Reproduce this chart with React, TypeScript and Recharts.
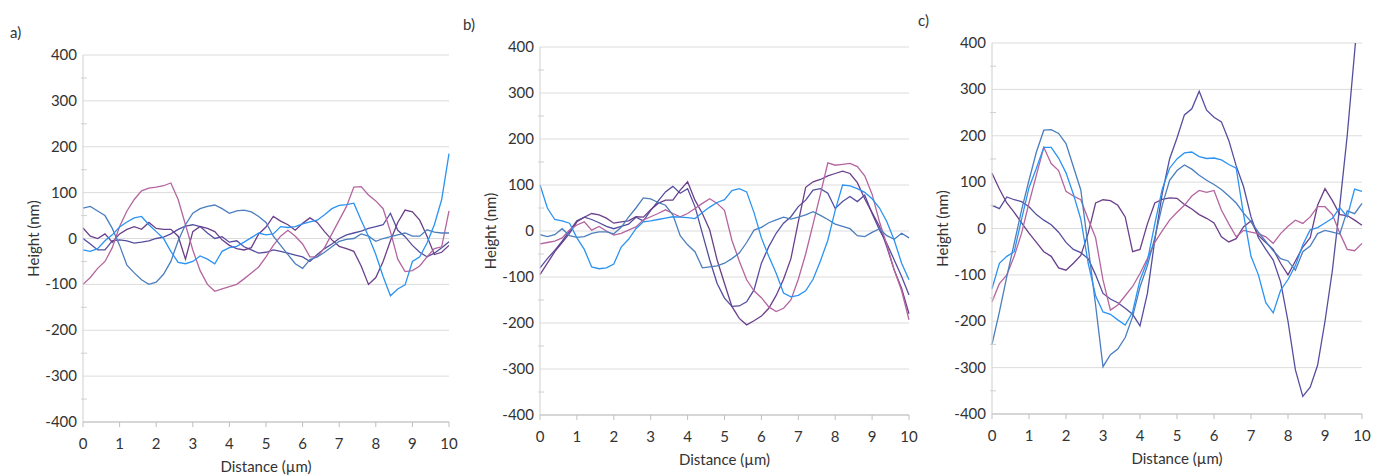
import { LineChart, Line, XAxis, YAxis, CartesianGrid, Label } from "recharts";

// distance along the profile (µm)
const DIST = [
  0, 0.2, 0.4, 0.6, 0.8, 1, 1.2, 1.4, 1.6, 1.8, 2, 2.2, 2.4, 2.6, 2.8, 3, 3.2, 3.4, 3.6, 3.8, 4,
  4.2, 4.4, 4.6, 4.8, 5, 5.2, 5.4, 5.6, 5.8, 6, 6.2, 6.4, 6.6, 6.8, 7, 7.2, 7.4, 7.6, 7.8, 8,
  8.2, 8.4, 8.6, 8.8, 9, 9.2, 9.4, 9.6, 9.8, 10,
];
const X_TICKS = [0, 1, 2, 3, 4, 5, 6, 7, 8, 9, 10];
const Y_TICKS = [-400, -350, -300, -250, -200, -150, -100, -50, 0, 50, 100, 150, 200, 250, 300, 350, 400];
const Y_GRID = [-400, -300, -200, -100, 0, 100, 200, 300, 400];

// panel a) heights (nm)
const A_BLUE = [-25, -28, -22, -5, 8, 25, 36, 45, 48, 30, 15, 0, -28, -52, -55, -50, -38, -45, -55, -28, -20, -17, -8, 2, 12, 8, 10, 26, 24, 26, 32, 36, 40, 52, 65, 72, 74, 77, 40, 5, -35, -83, -125, -110, -101, -50, -40, -10, 30, 85, 185];
const A_STEEL = [66, 70, 60, 50, 22, -15, -58, -75, -90, -100, -95, -78, -50, -5, 30, 55, 65, 70, 73, 65, 55, 60, 62, 58, 48, 35, 5, -15, -35, -55, -65, -46, -40, -30, -18, -6, -2, 0, 10, 5, -6, 0, 4, 8, 12, 5, 5, 19, 14, 12, 12];
const A_MAUVE = [-100, -85, -65, -50, -20, 26, 60, 85, 104, 110, 112, 115, 121, 85, 30, -25, -70, -100, -115, -110, -105, -100, -88, -75, -62, -40, -15, 5, 18, 5, -12, -40, -40, -20, 10, 40, 70, 112, 113, 95, 82, 65, 15, -45, -72, -70, -60, -40, -22, -18, 60];
const A_PURPLE = [23, 5, 0, 10, -8, 10, 20, 26, 20, 35, 22, 20, 20, 5, -45, 15, 26, 22, 15, -3, -15, -22, -25, -20, 10, 25, 48, 38, 30, 18, 33, 45, 35, 15, -3, -17, -22, -28, -60, -100, -85, -50, -5, 35, 62, 58, 40, 5, -35, -30, -15];
const A_INDIGO = [0, -12, -25, -25, -5, -3, -5, -10, -8, -5, 0, 3, 10, 20, 27, 30, 26, 12, 0, 4, -8, -5, -18, -25, -32, -30, -25, -28, -32, -36, -40, -50, -35, -22, -12, 0, 8, 12, 16, 22, 26, 30, 55, 18, 4, -15, -30, -40, -32, -20, -7];

// panel b)
const B_BLUE = [100, 50, 25, 22, 17, -15, -40, -78, -82, -80, -72, -35, -18, 5, 20, 22, 25, 28, 31, 30, 29, 27, 40, 52, 62, 68, 88, 92, 85, 40, -15, -55, -92, -135, -143, -140, -130, -105, -65, -20, 45, 100, 98, 92, 84, 70, 50, 20, -20, -70, -106];
const B_STEEL = [-8, -12, -8, 5, -10, -14, -12, -5, -2, -2, -6, 8, 30, 50, 72, 70, 62, 56, 35, -10, -30, -45, -80, -78, -76, -70, -60, -48, -25, 2, 8, 18, 24, 30, 26, 30, 35, 42, 34, 25, 15, 10, 5, -10, -12, -3, 5, -10, -18, -5, -15];
const B_MAUVE = [-28, -25, -22, -15, 2, 13, 20, 2, 10, 0, -9, -5, 2, 9, 24, 31, 38, 46, 38, 31, 38, 49, 60, 70, 60, 45, -20, -65, -106, -130, -145, -165, -175, -168, -150, -105, -50, 15, 80, 148, 143, 145, 147, 140, 120, 80, 20, -30, -85, -130, -193];
const B_PURPLE = [-95, -70, -45, -25, -5, 20, 30, 38, 35, 28, 17, 20, 22, 31, 30, 46, 60, 67, 67, 89, 107, 67, 38, 2, -63, -114, -164, -190, -204, -195, -185, -168, -140, -105, -60, 20, 95, 107, 112, 120, 125, 130, 125, 105, 70, 40, 10, -35, -85, -125, -180];
const B_INDIGO = [-80, -60, -42, -22, 0, 22, 30, 25, 18, 10, 5, 10, 15, 30, 22, 45, 65, 85, 97, 82, 92, 53, -5, -63, -114, -146, -164, -163, -154, -128, -70, -34, -5, 17, 31, 53, 67, 89, 92, 82, 49, 64, 75, 64, 78, 38, 2, -27, -63, -99, -139];

// panel c)
const C_BLUE = [-130, -75, -60, -50, 20, 88, 130, 175, 175, 152, 120, 74, 20, -75, -145, -180, -185, -197, -208, -180, -111, -70, 10, 85, 130, 150, 163, 165, 155, 151, 152, 148, 138, 130, 30, -60, -100, -160, -182, -133, -110, -80, -35, -3, 2, 12, 22, 45, 25, 85, 80];
const C_STEEL = [-250, -180, -104, -32, 40, 104, 165, 212, 213, 205, 183, 133, 83, -40, -165, -298, -272, -260, -235, -190, -126, -80, -20, 50, 104, 125, 137, 128, 115, 104, 95, 84, 70, 55, 33, 15, -8, -28, -48, -65, -70, -90, -50, -38, -11, -4, -8, -12, 38, 32, 54];
const C_MAUVE = [-158, -119, -100, -60, -10, 55, 115, 175, 140, 125, 80, 70, 62, 20, -20, -111, -176, -165, -145, -125, -97, -65, -30, -5, 18, 35, 50, 70, 82, 78, 82, 40, 10, -18, -4, -8, -11, -18, -32, -11, 5, 18, 11, 25, 47, 47, 30, -10, -45, -48, -32];
const C_PURPLE = [119, 85, 55, 35, 12, -10, -30, -50, -60, -85, -90, -75, -58, -10, 55, 62, 60, 50, 25, -50, -45, 10, 55, 63, 66, 65, 52, 42, 30, 22, 12, -18, -29, -22, 4, 16, -15, -30, -45, -75, -100, -70, -40, -20, 50, 86, 60, 30, 28, 18, 7];
const C_INDIGO = [50, 43, 68, 62, 58, 47, 30, 18, 8, -8, -30, -45, -52, -65, -100, -140, -152, -160, -172, -185, -210, -140, -25, 75, 150, 195, 245, 258, 296, 255, 240, 230, 190, 135, 90, 25, -20, -45, -68, -115, -200, -305, -362, -342, -295, -200, -90, 50, 200, 380, 560];

const FONT = "Lato, 'Open Sans', sans-serif";
const TEXT = "#333";

const SERIES = [
  { key: "indigo", color: "#544e9f" },
  { key: "purple", color: "#6b3f8b" },
  { key: "mauve", color: "#b4659f" },
  { key: "steel", color: "#4b7ebd" },
  { key: "blue", color: "#2b93f2" },
];

const toRows = (blue: number[], steel: number[], mauve: number[], purple: number[], indigo: number[]) =>
  DIST.map((x, i) => ({ x, blue: blue[i], steel: steel[i], mauve: mauve[i], purple: purple[i], indigo: indigo[i] }));

const ROWS_A = toRows(A_BLUE, A_STEEL, A_MAUVE, A_PURPLE, A_INDIGO);
const ROWS_B = toRows(B_BLUE, B_STEEL, B_MAUVE, B_PURPLE, B_INDIGO);
const ROWS_C = toRows(C_BLUE, C_STEEL, C_MAUVE, C_PURPLE, C_INDIGO);

const Y_AXIS_W = 83;

const YTick = (props: any) => {
  const { x, y, payload } = props;
  // minor ticks every 50 nm, labels every 100 nm
  if (payload.value % 100 !== 0) {
    return <line x1={x + 4} x2={x + 10} y1={y} y2={y} stroke="#d0d0d0" />;
  }
  return (
    <text x={x} y={y} dy={5} textAnchor="end" fontSize={15} fill={TEXT} fontFamily={FONT}>
      {payload.value}
    </text>
  );
};

const YTitle = (props: any) => {
  const vb = props.viewBox || {};
  const cx = vb.x + vb.width - 50;
  const cy = vb.y + vb.height / 2;
  return (
    <text x={cx} y={cy} transform={`rotate(-90, ${cx}, ${cy})`} textAnchor="middle" dominantBaseline="central" fontSize={15} fill={TEXT} fontFamily={FONT}>
      Height (nm)
    </text>
  );
};

const XTitle = (props: any) => {
  const vb = props.viewBox || {};
  return (
    <text x={vb.x + vb.width / 2} y={vb.y + 44} textAnchor="middle" dominantBaseline="central" fontSize={15} fill={TEXT} fontFamily={FONT}>
      Distance (µm)
    </text>
  );
};

interface PanelProps {
  rows: any[];
  plotLeft: number;
  plotRight: number;
  plotTop: number;
  plotBottom: number;
}

const Panel = ({ rows, plotLeft, plotRight, plotTop, plotBottom }: PanelProps) => {
  const width = plotRight - plotLeft + Y_AXIS_W + 12;
  return (
    <div style={{ position: "absolute", left: plotLeft - Y_AXIS_W, top: 0, width, height: 476 }}>
      <LineChart width={width} height={476} data={rows} margin={{ top: plotTop, right: 12, left: 0, bottom: 0 }}>
        <CartesianGrid vertical={false} horizontalValues={Y_GRID} stroke="#dcdcdc" />
        <XAxis
          type="number"
          dataKey="x"
          domain={[0, 10]}
          ticks={X_TICKS}
          interval={0}
          height={476 - plotBottom}
          tickSize={5}
          tickMargin={11}
          stroke="#bfbfbf"
          tick={{ fill: TEXT, fontSize: 15, fontFamily: FONT }}
        >
          <Label content={<XTitle />} />
        </XAxis>
        <YAxis
          type="number"
          domain={[-400, 400]}
          allowDataOverflow
          ticks={Y_TICKS}
          interval={0}
          width={Y_AXIS_W}
          tickSize={4}
          tickMargin={2}
          tickLine={false}
          stroke="#cfcfcf"
          tick={<YTick />}
        >
          <Label content={<YTitle />} />
        </YAxis>
        {SERIES.map((s) => (
          <Line
            key={s.key}
            type="linear"
            dataKey={s.key}
            stroke={s.color}
            strokeWidth={1.3}
            dot={false}
            isAnimationActive={false}
          />
        ))}
      </LineChart>
    </div>
  );
};

export default function App() {
  return (
    <div style={{ position: "fixed", left: 0, top: 0, width: 1387, height: 476, background: "#fff", fontFamily: FONT }}>
      <Panel rows={ROWS_A} plotLeft={83} plotRight={449} plotTop={55} plotBottom={422} />
      <Panel rows={ROWS_B} plotLeft={540} plotRight={909} plotTop={47} plotBottom={415} />
      <Panel rows={ROWS_C} plotLeft={992} plotRight={1362} plotTop={43} plotBottom={414} />
      <svg width={1387} height={476} style={{ position: "absolute", left: 0, top: 0, pointerEvents: "none" }}>
        <text x={10} y={38} fontSize={15} fill={TEXT} fontFamily={FONT}>a)</text>
        <text x={463} y={30} fontSize={15} fill={TEXT} fontFamily={FONT}>b)</text>
        <text x={918} y={26} fontSize={15} fill={TEXT} fontFamily={FONT}>c)</text>
      </svg>
    </div>
  );
}
